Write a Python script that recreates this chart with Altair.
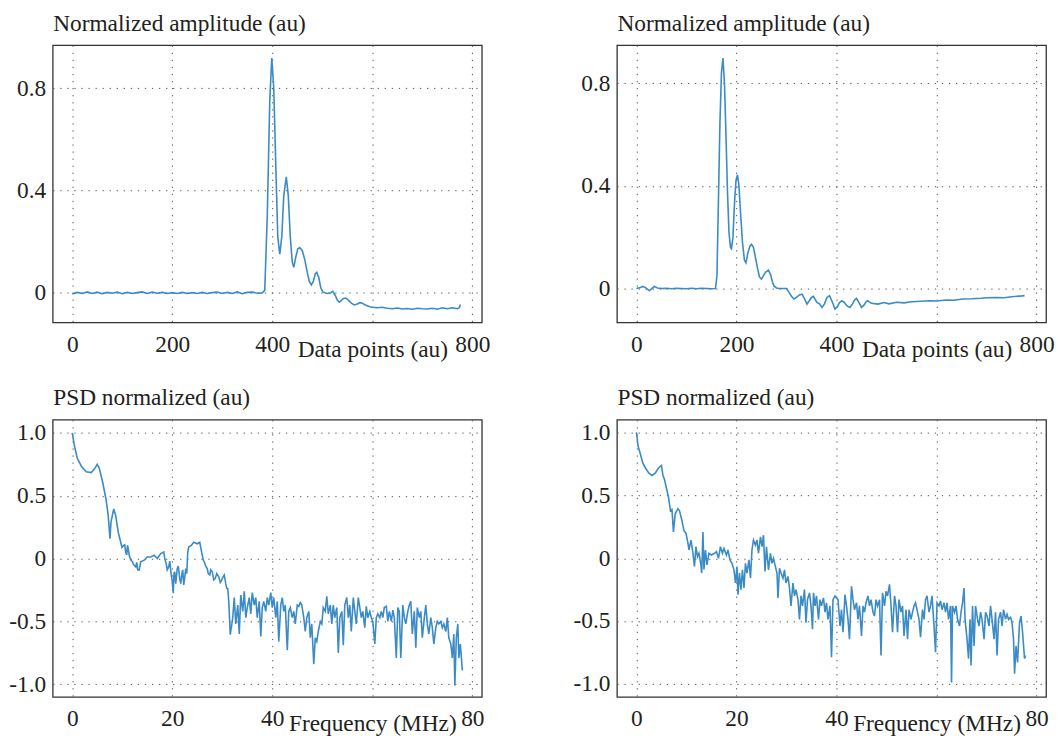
import altair as alt
import pandas as pd

# ---------------- data ----------------
# Top-left: normalized amplitude vs data points
tl_x = [0, 10, 20, 30, 40, 50, 60, 70, 80, 90, 100, 110, 120, 130, 140, 150, 160, 170, 180, 190,
        200, 210, 220, 230, 240, 250, 260, 270, 280, 290, 300, 310, 320, 330, 340, 350, 360, 370, 380,
        385, 390, 395, 399, 403, 407, 411, 415, 419, 423, 428, 432, 436, 440, 443, 447, 451, 455, 460,
        465, 470, 474, 478, 482, 486, 489, 493, 497, 501, 506, 511, 516, 521, 526, 530, 534, 538, 542,
        547, 552, 558, 564, 570, 575, 580, 585, 590, 595, 600, 610, 620, 630, 640, 650, 660, 670, 680,
        690, 700, 710, 720, 730, 740, 750, 760, 770, 774, 776]
tl_y = [-0.004, 0.002, -0.002, 0.004, -0.002, 0.003, -0.003, 0.002, -0.001, 0.003, -0.003, 0.002,
        -0.002, 0.001, 0.004, -0.002, 0.003, -0.001, 0.002, -0.002, 0.001, -0.002, 0.002, -0.002,
        0.001, -0.002, 0.002, -0.002, 0.001, 0.003, -0.002, 0.002, -0.002, 0.004, -0.003, 0.002,
        0.003, -0.001, 0.0, 0.01, 0.3, 0.75, 0.918, 0.8, 0.5, 0.22, 0.151, 0.22, 0.38, 0.454, 0.38,
        0.22, 0.12, 0.1, 0.14, 0.172, 0.177, 0.165, 0.13, 0.08, 0.045, 0.031, 0.045, 0.075, 0.08,
        0.06, 0.02, 0.004, 0.0, -0.002, 0.0, 0.006, -0.01, -0.028, -0.036, -0.03, -0.022, -0.02,
        -0.028, -0.04, -0.047, -0.043, -0.038, -0.04, -0.046, -0.05, -0.054, -0.056, -0.058, -0.056,
        -0.06, -0.062, -0.059, -0.063, -0.061, -0.064, -0.06, -0.062, -0.063, -0.06, -0.064, -0.058,
        -0.062, -0.058, -0.062, -0.058, -0.045]

# Top-right: normalized amplitude vs data points
tr_x = [0, 8, 13, 19, 26, 31, 36, 42, 50, 60, 70, 80, 90, 100, 110, 120, 130, 140, 150, 158, 161,
        164, 167, 170, 173, 176, 179, 182, 185, 188, 190, 193, 196, 199, 202, 205, 208, 212, 216,
        219, 223, 227, 230, 234, 238, 242, 246, 250, 254, 259, 264, 268, 272, 275, 280, 285, 292,
        300, 305, 310, 315, 320, 326, 331, 336, 341, 345, 350, 354, 358, 361, 366, 371, 376, 381,
        386, 391, 397, 402, 406, 411, 416, 421, 427, 432, 436, 440, 445, 450, 455, 459, 462, 470,
        483, 495, 505, 520, 535, 550, 570, 586, 600, 620, 635, 652, 670, 690, 700, 719, 735, 750,
        765, 776]
tr_y = [0.0, 0.004, 0.008, 0.002, -0.009, 0.0, 0.008, 0.002, 0.0, 0.001, -0.001, 0.001, 0.0,
        -0.001, 0.001, -0.001, 0.001, 0.0, -0.001, 0.0, 0.05, 0.35, 0.65, 0.84, 0.898, 0.8, 0.6,
        0.38, 0.22, 0.16, 0.155, 0.2, 0.33, 0.42, 0.443, 0.4, 0.3, 0.18, 0.11, 0.1, 0.14, 0.165,
        0.172, 0.16, 0.12, 0.08, 0.045, 0.036, 0.05, 0.065, 0.071, 0.055, 0.025, 0.01, 0.002, 0.0,
        0.0, 0.0, -0.015, -0.03, -0.041, -0.035, -0.025, -0.022, -0.04, -0.061, -0.05, -0.035,
        -0.031, -0.045, -0.054, -0.06, -0.074, -0.06, -0.035, -0.028, -0.05, -0.08, -0.07, -0.055,
        -0.048, -0.055, -0.068, -0.074, -0.06, -0.045, -0.039, -0.055, -0.074, -0.065, -0.052,
        -0.048, -0.058, -0.061, -0.055, -0.06, -0.054, -0.056, -0.052, -0.05, -0.048, -0.049,
        -0.045, -0.046, -0.041, -0.04, -0.038, -0.036, -0.035, -0.036, -0.032, -0.03, -0.028]

# Bottom-left: PSD normalized vs frequency (MHz)
bl_x = [0, 0.46, 1.0, 1.8, 2.8, 3.8, 4.4, 5.0, 5.4, 6.1, 6.75, 7.2, 7.55, 7.75, 8.3, 8.7, 9.2,
        9.45, 9.7, 9.95, 10.3, 10.5, 10.7, 10.9, 11.06, 11.2, 11.4, 11.7, 12.05, 12.3, 12.7, 12.9,
        13.1, 13.4, 13.7, 14.4, 15.0, 15.7, 16.4, 17.0, 17.7, 18.3, 18.5, 18.8, 19.0, 19.3, 19.5,
        19.8, 20.0, 20.2, 20.35, 20.5, 20.7, 21.0, 21.2, 21.5, 21.7, 22.0, 22.1, 22.3, 22.5, 22.7,
        22.9, 23.1, 23.3, 23.8, 24.3, 25.0, 25.5, 26.0, 26.2, 26.4, 26.7, 27.0, 27.2, 27.5, 27.7,
        28.0, 28.3, 28.6, 28.9, 29.3, 29.6, 29.9, 30.1, 30.4, 30.7, 30.9, 31.1, 31.3, 31.6,
        32.1, 32.4, 32.7, 33.1, 33.4, 33.7, 34.1, 34.4, 34.7, 35.0, 35.4, 35.7, 36.0, 36.4, 36.7,
        37.0, 37.4, 37.7, 38.0, 38.3, 38.7, 39.0, 39.3, 39.7, 40.0, 40.3, 40.7, 41.0, 41.3, 41.7,
        42.0, 42.3, 42.6, 43.0, 43.3, 43.6, 44.0, 44.3, 44.6, 45.0, 45.3, 45.6, 45.9, 46.3, 46.6,
        46.9, 47.3, 47.6, 47.9, 48.3, 48.6, 48.9, 49.2, 49.6, 49.9, 50.2, 50.6, 50.9, 51.2, 51.6,
        51.9, 52.2, 52.5, 52.9, 53.2, 53.5, 53.9, 54.2, 54.5, 54.9, 55.2, 55.5, 55.8, 56.2, 56.5,
        56.8, 57.2, 57.5, 57.8, 58.1, 58.5, 58.8, 59.1, 59.5, 59.8, 60.1, 60.5, 60.8, 61.1, 61.5,
        61.8, 62.1, 62.4, 62.8, 63.1, 63.4, 63.8, 64.1, 64.4, 64.8, 65.1, 65.4, 65.7, 66.1, 66.4,
        66.7, 67.1, 67.4, 67.7, 68.0, 68.4, 68.7, 69.0, 69.4, 69.7, 70.0, 70.4, 70.7, 71.0, 71.3,
        71.7, 72.0, 72.3, 72.7, 73.0, 73.3, 73.7, 74.0, 74.3, 74.7, 75.0, 75.3, 75.7, 76.0, 76.3,
        76.5, 76.8, 77.1, 77.3, 77.6, 78.0]
bl_y = [1.0, 0.895, 0.8, 0.737, 0.69, 0.684, 0.71, 0.75, 0.72, 0.605, 0.474, 0.342, 0.158, 0.29,
        0.395, 0.342, 0.21, 0.17, 0.13, 0.09, 0.105, 0.11, 0.05, 0.03, 0.105, 0.08, 0.026, -0.01,
        -0.026, -0.05, -0.066, -0.03, -0.09, -0.092, -0.026, -0.013, 0.013, 0.013, 0.026, 0.0,
        0.04, 0.053, 0.0, -0.04, -0.09, -0.066, -0.02, -0.13, -0.18, -0.276, -0.12, -0.105, -0.2,
        -0.08, -0.06, -0.158, -0.2, -0.105, -0.09, -0.21, -0.15, -0.08, -0.12, 0.05, 0.092, 0.105,
        0.13, 0.118, 0.13, 0.026, -0.01, -0.026, -0.06, -0.08, -0.12, -0.13, -0.09, -0.105, -0.17,
        -0.158, -0.12, -0.145, -0.19, -0.17, -0.15, -0.13, -0.2, -0.237, -0.24, -0.34, -0.605,
        -0.47, -0.31, -0.52, -0.37, -0.6, -0.29, -0.42, -0.26, -0.47, -0.39, -0.31, -0.44, -0.27,
        -0.37, -0.31, -0.47, -0.34, -0.62, -0.39, -0.34, -0.42, -0.31, -0.37, -0.27, -0.39, -0.31,
        -0.47, -0.34, -0.66, -0.37, -0.31, -0.42, -0.37, -0.73, -0.42, -0.39, -0.47, -0.42, -0.52,
        -0.37, -0.38, -0.35, -0.37, -0.47, -0.58, -0.47, -0.42, -0.63, -0.52, -0.84, -0.63, -0.66,
        -0.58, -0.5, -0.52, -0.39, -0.42, -0.3, -0.44, -0.37, -0.52, -0.37, -0.47, -0.39, -0.75,
        -0.47, -0.42, -0.69, -0.37, -0.31, -0.47, -0.37, -0.58, -0.31, -0.42, -0.52, -0.31, -0.39,
        -0.47, -0.42, -0.55, -0.38, -0.47, -0.42, -0.47, -0.5, -0.68, -0.47, -0.44, -0.47, -0.42,
        -0.47, -0.39, -0.38, -0.5, -0.42, -0.5, -0.41, -0.47, -0.79, -0.39, -0.42, -0.79, -0.37,
        -0.47, -0.52, -0.42, -0.37, -0.34, -0.6, -0.42, -0.71, -0.39, -0.47, -0.42, -0.63, -0.47,
        -0.37, -0.52, -0.6, -0.47, -0.55, -0.68, -0.55, -0.5, -0.52, -0.5, -0.55, -0.52, -0.58,
        -0.47, -0.63, -0.68, -0.79, -0.6, -1.01, -0.63, -0.52, -0.79, -0.68, -0.89]

# Bottom-right: PSD normalized vs frequency (MHz)
br_x = [0, 0.33, 0.8, 1.26, 1.8, 2.45, 3.1, 3.8, 4.4, 5.0, 5.3, 5.6, 6.1, 6.4, 6.8, 7.1, 7.4, 7.75,
        8.3, 8.6, 9.1, 9.5, 9.9, 10.3, 10.5, 10.9, 11.3, 11.6, 11.9, 12.2, 12.5, 12.85, 13.05, 13.3,
        13.5, 13.8, 14.1, 14.5, 15.0, 15.6, 16.0, 16.4, 16.8, 17.2, 17.5, 18.0, 18.3, 18.7, 19.1,
        19.5, 19.8, 20.1, 20.3, 20.6, 20.9, 21.2, 21.5, 21.8, 22.1, 22.5, 22.8, 23.1, 23.4, 23.8,
        24.1, 24.4, 24.8, 25.1, 25.4, 25.7, 26.0, 26.4, 26.8, 27.1, 27.4, 27.7, 28.1, 28.3, 28.6,
        28.9, 29.3, 29.6, 29.9, 30.3, 30.6, 30.9, 31.3, 31.6, 31.9, 32.3, 32.6, 32.9, 33.2, 33.6,
        33.9, 34.2, 34.6, 34.9, 35.2, 35.4, 35.7, 36.0, 36.4, 36.7, 37.0, 37.4, 37.7, 38.0, 38.3,
        38.7, 39.0, 39.3, 39.7, 40.0, 40.3, 40.7, 41.0, 41.3, 41.7, 42.0, 42.3, 42.6, 43.0, 43.3,
        43.6, 44.0, 44.3, 44.6, 45.0, 45.3, 45.6, 45.9, 46.3, 46.6, 46.9, 47.3, 47.6, 47.9, 48.2,
        48.6, 48.9, 49.2, 49.6, 49.9, 50.2, 50.6, 50.9, 51.2, 51.6, 51.9, 52.2, 52.5, 52.9, 53.2,
        53.5, 53.9, 54.2, 54.5, 54.9, 55.2, 55.5, 55.8, 56.2, 56.5, 56.8, 57.2, 57.5, 57.8, 58.1,
        58.5, 58.8, 59.1, 59.5, 59.8, 60.1, 60.5, 60.8, 61.1, 61.5, 61.8, 62.1, 62.4, 62.8, 63.0,
        63.2, 63.6, 63.9, 64.2, 64.6, 64.9, 65.2, 65.5, 65.7, 66.1, 66.4, 66.7, 66.9, 67.2, 67.5,
        67.8, 68.2, 68.5, 68.8, 69.1, 69.5, 69.8, 70.1, 70.5, 70.8, 71.1, 71.5, 71.8, 72.1, 72.4,
        72.8, 73.1, 73.4, 73.8, 74.1, 74.4, 74.8, 75.1, 75.4, 75.6, 75.9, 76.2, 76.6, 76.9, 77.2,
        77.6, 77.8]
br_y = [1.005, 0.895, 0.83, 0.76, 0.72, 0.68, 0.66, 0.68, 0.72, 0.74, 0.66, 0.63, 0.54, 0.49,
        0.38, 0.39, 0.21, 0.355, 0.395, 0.38, 0.3, 0.22, 0.2, 0.12, 0.066, 0.145, 0.04, -0.066,
        0.092, 0.013, 0.04, -0.04, -0.118, 0.21, -0.09, 0.066, -0.053, 0.04, 0.026, 0.04, 0.053,
        0.0, 0.092, 0.04, 0.079, 0.026, 0.066, -0.013, -0.04, -0.092, -0.197, -0.066, -0.29,
        -0.118, -0.25, -0.092, -0.237, -0.04, -0.118, -0.013, -0.158, 0.066, 0.145, 0.105, 0.145,
        0.04, 0.17, 0.092, 0.184, -0.105, 0.092, -0.092, 0.04, -0.04, 0.0, -0.053, -0.118, -0.316,
        -0.079, -0.118, -0.158, -0.092, -0.197, -0.145, -0.237, -0.38, -0.197, -0.3, -0.25, -0.33,
        -0.487, -0.3, -0.38, -0.25, -0.513, -0.33, -0.276, -0.38, -0.566, -0.276, -0.38, -0.3,
        -0.487, -0.33, -0.38, -0.316, -0.43, -0.355, -0.487, -0.38, -0.79, -0.33, -0.3, -0.316,
        -0.33, -0.54, -0.41, -0.59, -0.29, -0.38, -0.487, -0.645, -0.224, -0.33, -0.41, -0.355,
        -0.487, -0.38, -0.62, -0.38, -0.43, -0.355, -0.3, -0.38, -0.33, -0.43, -0.46, -0.33, -0.38,
        -0.33, -0.776, -0.276, -0.38, -0.263, -0.3, -0.208, -0.38, -0.59, -0.3, -0.38, -0.59, -0.33,
        -0.43, -0.38, -0.62, -0.41, -0.645, -0.41, -0.487, -0.43, -0.38, -0.355, -0.43, -0.487,
        -0.63, -0.41, -0.487, -0.33, -0.3, -0.43, -0.38, -0.3, -0.54, -0.75, -0.355, -0.38, -0.34,
        -0.41, -0.355, -0.43, -0.355, -0.487, -0.38, -0.99, -0.38, -0.43, -0.38, -0.487, -0.54,
        -0.43, -0.355, -0.237, -0.487, -0.645, -0.8, -0.487, -0.855, -0.38, -0.7, -0.38, -0.487,
        -0.54, -0.43, -0.487, -0.645, -0.43, -0.46, -0.54, -0.38, -0.487, -0.645, -0.43, -0.776,
        -0.487, -0.43, -0.54, -0.41, -0.487, -0.447, -0.487, -0.47, -0.513, -0.645, -0.92, -0.7,
        -0.83, -0.513, -0.46, -0.59, -0.8, -0.776]

amp_ticks = [0, 200, 400, 600, 800]
freq_ticks = [0, 20, 40, 60, 80]
amp_y_ticks = [0, 0.4, 0.8]
psd_y_ticks = [-1.0, -0.5, 0, 0.5, 1.0]

FONT = "Liberation Serif"
FS = 23.5
TXT = "#231f20"
LINE = "#3a8bc6"
W, H = 432, 279


def panel(xs, ys, xdom, ydom, xticks, yticks, xlabel_val, xlabel, ytitle, ylabel_expr):
    df = pd.DataFrame({"x": xs, "y": ys})
    x_axis = alt.Axis(
        values=xticks,
        labelExpr=f"datum.value == {xlabel_val} ? '{xlabel}' : datum.label",
        labelPadding={"condition": {"test": f"datum.value == {xlabel_val}", "value": 15}, "value": 10},
        labelOverlap=False,
        labelFlush=False,
        labelBaseline="top",
        title=None,
    )
    y_axis = alt.Axis(
        values=yticks,
        labelExpr=ylabel_expr,
        labelPadding=7,
        labelOverlap=False,
        labelFlush=False,
        title=ytitle,
        titleAngle=0,
        titleAlign="left",
        titleBaseline="alphabetic",
        titleX=0,
        titleY=-15,
    )
    return (
        alt.Chart(df)
        .mark_line(color=LINE, strokeWidth=1.6)
        .encode(
            x=alt.X("x:Q", scale=alt.Scale(domain=xdom, nice=False, zero=False), axis=x_axis),
            y=alt.Y("y:Q", scale=alt.Scale(domain=ydom, nice=False, zero=False), axis=y_axis),
        )
        .properties(width=W, height=H)
    )


amp_lab = "datum.value == 0 ? '0' : format(datum.value, '.1f')"
psd_lab = ("datum.value == 0 ? '0' : (datum.value < 0 ? '-' + format(-datum.value, '.1f') "
           ": format(datum.value, '.1f'))")

tl = panel(tl_x, tl_y, [-39, 819], [-0.115, 0.968], amp_ticks, amp_y_ticks, 600,
           "Data points (au)", "Normalized amplitude (au)", amp_lab)
tr = panel(tr_x, tr_y, [-39, 819], [-0.132, 0.948], amp_ticks, amp_y_ticks, 600,
           "Data points (au)", "Normalized amplitude (au)", amp_lab)
bl = panel(bl_x, bl_y, [-3.9, 81.9], [-1.1, 1.105], freq_ticks, psd_y_ticks, 60,
           "Frequency (MHz)", "PSD normalized (au)", psd_lab)
br = panel(br_x, br_y, [-3.9, 81.9], [-1.105, 1.105], freq_ticks, psd_y_ticks, 60,
           "Frequency (MHz)", "PSD normalized (au)", psd_lab)

chart = (
    alt.concat(tl, tr, bl, br, columns=2, spacing={"row": 98, "column": 136}, bounds="flush")
    .properties(padding={"left": 0, "top": 0, "right": 0, "bottom": 0}, background="white")
    .configure_view(stroke="#333333", strokeWidth=1.3)
    .configure_axis(
        labelFont=FONT,
        labelFontSize=FS,
        labelColor=TXT,
        titleFont=FONT,
        titleFontSize=FS,
        titleFontWeight="normal",
        titleColor=TXT,
        grid=True,
        gridColor="#555555",
        gridDash=[1.3, 5.8],
        gridWidth=1,
        domain=False,
        ticks=False,
        tickSize=0,
    )
)

chart.save("out.html", embed_options={"renderer": "svg", "actions": False})
